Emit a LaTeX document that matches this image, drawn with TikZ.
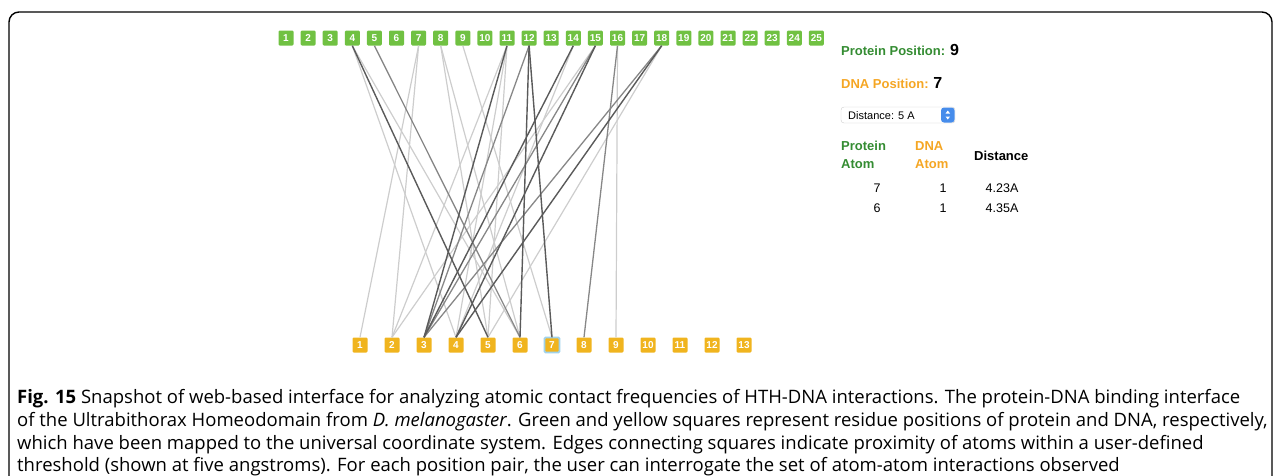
\documentclass[tikz,border=0pt]{standalone}
\usepackage{fontspec}
\setmainfont{Open Sans}
\newfontfamily\uifont{Liberation Sans}
\definecolor{sqgreen}{RGB}{112,193,66}
\definecolor{sqyellow}{RGB}{240,180,30}
\definecolor{txtgreen}{RGB}{52,140,50}
\definecolor{txtorange}{RGB}{245,166,35}
\definecolor{edgedark}{RGB}{90,90,90}
\definecolor{edgemid}{RGB}{135,135,135}
\definecolor{edgelight}{RGB}{205,205,205}
\definecolor{stepblue}{RGB}{70,140,235}
\definecolor{glow}{RGB}{160,210,235}
\begin{document}
\begin{tikzpicture}[x=1pt,y=-1pt,
  gsq/.style={fill=sqgreen,rounded corners=1.2pt,minimum size=15pt,inner sep=0pt,text=white,
    font=\uifont\bfseries\fontsize{10}{10}\selectfont},
  ysq/.style={fill=sqyellow,rounded corners=1.2pt,minimum size=15pt,inner sep=0pt,text=white,
    font=\uifont\bfseries\fontsize{10}{10}\selectfont},
  dk/.style={draw=edgedark,line width=1.4pt},
  md/.style={draw=edgemid,line width=1.3pt},
  lt/.style={draw=edgelight,line width=1.2pt},
  panel/.style={font=\uifont\bfseries\fontsize{13}{13}\selectfont,anchor=base west,inner sep=0pt},
  cell/.style={font=\uifont\fontsize{12.5}{12.5}\selectfont,anchor=base,inner sep=0pt},
  captext/.style={font=\fontsize{18.5}{18.5}\selectfont,anchor=base west,inner sep=0pt}]
\useasboundingbox (0,0) rectangle (1282,475);
\clip (0,0) rectangle (1282,475);

% outer frame, open at the bottom
\draw[line width=1.4pt,rounded corners=10pt] (9,500) -- (9,12) -- (1272,12) -- (1272,500);

% protein positions (top row)
\foreach \i in {1,...,25}
  \node[gsq] (g\i) at ({286+(\i-1)*22.1},38) {\i};
% DNA positions (bottom row)
\foreach \i in {1,...,13}
  \node[ysq] (y\i) at ({360+(\i-1)*32},345) {\i};
\node[ysq,draw=glow,line width=1.8pt] at (y7) {7};

% contact edges
\foreach \a/\b in {7/1,7/2,11/2,15/2,4/4,11/4,14/4,8/5,11/5,18/5,4/6,8/6,9/7,16/9}
  \draw[lt] (g\a.south) -- (y\b.north);
\foreach \a/\b in {12/3,15/3,18/3,5/6,16/8}
  \draw[md] (g\a.south) -- (y\b.north);
\foreach \a/\b in {11/3,14/3,15/4,18/4,4/5,12/6,12/7}
  \draw[dk] (g\a.south) -- (y\b.north);

% selection panel
\node[panel,text=txtgreen] (ppos) at (841,55) {Protein Position: \textcolor{black}{\fontsize{16}{16}\selectfont 9}};
\node[panel,text=txtorange] (dpos) at (841,88) {DNA Position: \textcolor{black}{\fontsize{16}{16}\selectfont 7}};
\draw[draw=black!20,fill=white,rounded corners=3pt] (841,107) rectangle (955,123);
\fill[stepblue,rounded corners=3pt] (941,107.5) rectangle (954.5,122.5);
\node[font=\uifont\fontsize{11}{11}\selectfont,anchor=base west,inner sep=0pt] (dist) at (848,119) {Distance: 5 A};
\fill[white] (945.5,113.5) -- (950,113.5) -- (947.75,110.5) -- cycle;
\fill[white] (945.5,116.5) -- (950,116.5) -- (947.75,119.5) -- cycle;

\node[panel,text=txtgreen] (h1a) at (841,150) {Protein};
\node[panel,text=txtgreen] (h1b) at (841,168) {Atom};
\node[panel,text=txtorange] (h2a) at (915,150) {DNA};
\node[panel,text=txtorange] (h2b) at (915,168) {Atom};
\node[panel,text=black] (h3) at (974,160) {Distance};
\node[cell] (r1a) at (877,192) {7};
\node[cell] (r1b) at (943,192) {1};
\node[cell] (r1c) at (1002,192) {4.23A};
\node[cell] (r2a) at (877,212) {6};
\node[cell] (r2b) at (943,212) {1};
\node[cell] (r2c) at (1002,212) {4.35A};

% caption
\node[captext] (c1) at (17,403) {\textbf{Fig. 15} Snapshot of web-based interface for analyzing atomic contact frequencies of HTH-DNA interactions. The protein-DNA binding interface};
\node[captext] (c2) at (17,426) {of the Ultrabithorax Homeodomain from \textit{D. melanogaster}. Green and yellow squares represent residue positions of protein and DNA, respectively,};
\node[captext] (c3) at (17,449) {which have been mapped to the universal coordinate system. Edges connecting squares indicate proximity of atoms within a user-defined};
\node[captext] (c4) at (17,471) {threshold (shown at five angstroms). For each position pair, the user can interrogate the set of atom-atom interactions observed};
\end{tikzpicture}
\end{document}
